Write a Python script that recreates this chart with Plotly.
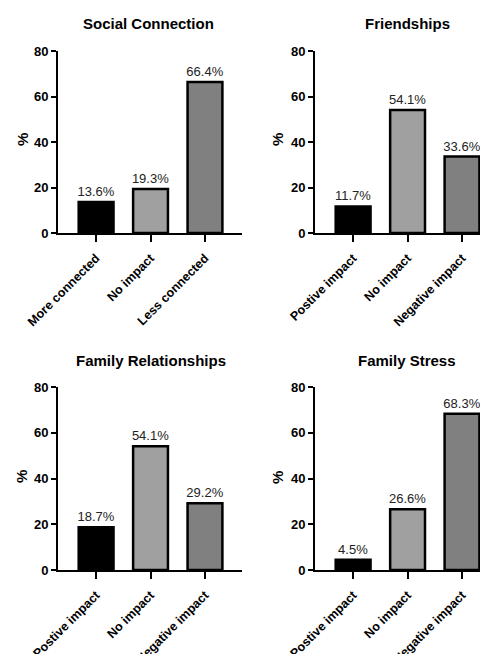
import plotly.graph_objects as go

# The page has an 8px body margin, so the figure is drawn 8px in from the corner.
OFF = 8
W, H = 488 - OFF, 654 - OFF

titles = ["Social Connection", "Friendships", "Family Relationships", "Family Stress"]
cats_social = ["More connected", "No impact", "Less connected"]
cats_impact = ["Postive impact", "No impact", "Negative impact"]
vals_social = [13.6, 19.3, 66.4]
vals_friend = [11.7, 54.1, 33.6]
vals_family_rel = [18.7, 54.1, 29.2]
vals_family_stress = [4.5, 26.6, 68.3]
y_ticks = [0, 20, 40, 60, 80]
bar_colors = ["#000000", "#a0a0a0", "#808080"]

panels = [
    (cats_social, vals_social),
    (cats_impact, vals_friend),
    (cats_impact, vals_family_rel),
    (cats_impact, vals_family_stress),
]

# page-pixel layout: (x_left, x_right, y_top, y_bottom, xrange)
layouts = [
    (58, 242, 51, 233, [-0.70, 2.68]),
    (315, 488, 51, 233, [-0.70, 2.477]),
    (58, 242, 387, 570, [-0.70, 2.68]),
    (315, 488, 387, 570, [-0.70, 2.477]),
]
title_pos = [(148, 23), (407, 23), (151, 360), (407, 360)]
pct_pos = [(22, 140), (277, 140), (22, 477), (277, 478)]


def px(x):
    return (x - OFF) / W


def py(y):
    return 1 - (y - OFF) / H


FONT = "Liberation Sans, Arial, sans-serif"
fig = go.Figure()
annotations = []
for i, ((cats, vals), (xl, xr, yt, yb, xr_range)) in enumerate(zip(panels, layouts)):
    n = i + 1
    xa = "x" if n == 1 else f"x{n}"
    ya = "y" if n == 1 else f"y{n}"
    fig.add_trace(go.Bar(
        x=list(range(len(cats))), y=vals, xaxis=xa, yaxis=ya,
        width=0.64,
        marker=dict(color=bar_colors, line=dict(color="black", width=2.5)),
        texttemplate="%{y:.1f}%", textposition="outside", cliponaxis=False,
        constraintext="none",
        textfont=dict(family=FONT, size=13, color="#222222"),
        showlegend=False, hoverinfo="skip",
    ))
    xkey = "xaxis" if n == 1 else f"xaxis{n}"
    ykey = "yaxis" if n == 1 else f"yaxis{n}"
    fig.update_layout(**{
        xkey: dict(
            domain=[px(xl), min(px(xr), 1.0)], anchor=ya, range=xr_range, automargin=False,
            tickmode="array", tickvals=list(range(len(cats))), ticktext=cats,
            tickangle=-45, showline=True, linecolor="black", linewidth=2,
            ticks="outside", ticklen=7, tickwidth=2, tickcolor="black",
            ticklabelstandoff=4,
            showgrid=False, zeroline=False, fixedrange=True,
            tickfont=dict(family=FONT, size=12.5, color="black", weight="bold"),
        ),
        ykey: dict(
            domain=[py(yb), py(yt)], anchor=xa, range=[0, 80], automargin=False,
            tickmode="array", tickvals=y_ticks,
            showline=True, linecolor="black", linewidth=2,
            ticks="outside", ticklen=5, tickwidth=2, tickcolor="black",
            showgrid=False, zeroline=False, fixedrange=True,
            tickfont=dict(family=FONT, size=13, color="black", weight="bold"),
        ),
    })
    tx, ty = title_pos[i]
    annotations.append(dict(
        text=f"<b>{titles[i]}</b>", x=px(tx), y=py(ty), xref="paper", yref="paper",
        xanchor="center", yanchor="middle", showarrow=False,
        font=dict(family=FONT, size=15, color="black"),
    ))
    qx, qy = pct_pos[i]
    annotations.append(dict(
        text="<b>%</b>", x=px(qx), y=py(qy), xref="paper", yref="paper",
        xanchor="center", yanchor="middle", showarrow=False, textangle=-90,
        font=dict(family=FONT, size=15, color="black"),
    ))

fig.update_layout(
    width=W, height=H, margin=dict(l=0, r=0, t=0, b=0, autoexpand=False),
    paper_bgcolor="white", plot_bgcolor="white",
    annotations=annotations, bargap=0.2,
    font=dict(family=FONT),
)
fig.write_html("out.html")
